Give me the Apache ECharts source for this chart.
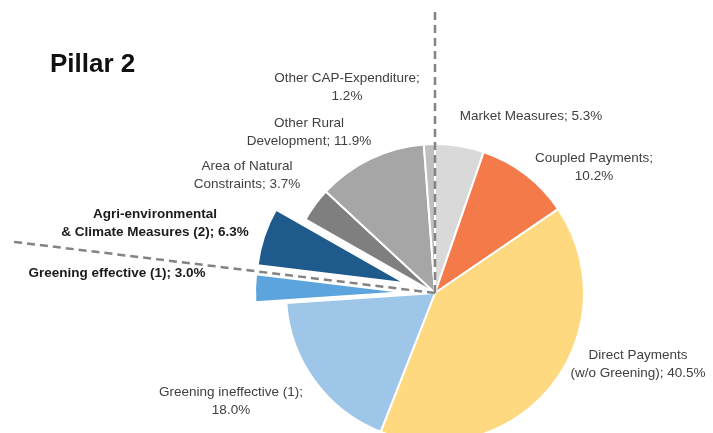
<!DOCTYPE html>
<html>
<head>
<meta charset="utf-8">
<script src="https://cdn.jsdelivr.net/npm/echarts@6/dist/echarts.min.js"></script>
<style>
html,body{margin:0;padding:0;background:#fff;}
#c{width:713px;height:433px;}
</style>
</head>
<body>
<div id="c"></div>
<script>
// ---- data ----
var categories = [
  'Market Measures',
  'Coupled Payments',
  'Direct Payments\n(w/o Greening)',
  'Greening ineffective (1)',
  'Greening effective (1)',
  'Agri-environmental\n& Climate Measures (2)',
  'Area of Natural\nConstraints',
  'Other Rural\nDevelopment',
  'Other CAP-Expenditure'
];
var values = [5.3, 10.2, 40.5, 18.0, 3.0, 6.3, 3.7, 11.9, 1.2];
var valueOnNewLine = [false, true, false, true, false, false, false, false, true];
var highlighted = [false, false, false, false, true, true, false, false, false];

// ---- styling ----
var colors = ['#d9d9d9', '#f47a4a', '#fed980', '#9dc6e8', '#5ba4de', '#1e5a8c', '#7f7f7f', '#a6a6a6', '#bfbfbf'];
var labelPos = [
  [531, 116], [594, 167], [638, 364], [231, 401], [117, 273],
  [155, 223], [247, 175], [309, 132], [347, 87]
];
var cx = 435, cy = 293, R = 149;

var total = values.reduce(function (a, b) { return a + b; }, 0);

var sliceData = values.map(function (v, i) {
  return {
    name: categories[i],
    value: v,
    itemStyle: { color: colors[i] },
    selected: highlighted[i]
  };
});
var labelData = values.map(function (v, i) {
  var d = { name: categories[i], value: v };
  if (highlighted[i]) {
    d.label = { fontWeight: 'bold', color: '#1a1a1a' };
  }
  return d;
});

// dashed separators: at the start angle and after "Greening effective"
function cumAngle(n) {
  var s = 0;
  for (var i = 0; i < n; i++) s += values[i];
  return s / total * 2 * Math.PI;
}
function lineTo(angle, len) {
  return [cx + Math.sin(angle) * len, cy - Math.cos(angle) * len];
}
var p0 = lineTo(cumAngle(0), 281);
var p1 = lineTo(cumAngle(5), 428);

var chart = echarts.init(document.getElementById('c'));
chart.setOption({
  backgroundColor: '#ffffff',
  animation: false,
  title: {
    text: 'Pillar 2',
    left: 45,
    top: 47,
    textStyle: { fontFamily: 'Liberation Sans', fontWeight: 'bold', fontSize: 26, color: '#111' }
  },
  series: [{
    // slices
    type: 'pie',
    center: [cx, cy],
    radius: [0, R],
    startAngle: 90,
    clockwise: true,
    selectedMode: 'multiple',
    selectedOffset: 31,
    itemStyle: { borderColor: '#ffffff', borderWidth: 2 },
    label: { show: false },
    labelLine: { show: false },
    emphasis: { disabled: true },
    data: sliceData,
    z: 1
  }, {
    // labels
    type: 'pie',
    center: [cx, cy],
    radius: [0, R],
    startAngle: 90,
    clockwise: true,
    silent: true,
    itemStyle: { color: 'rgba(0,0,0,0)', borderWidth: 0 },
    label: {
      show: true,
      position: 'outside',
      overflow: 'none',
      fontFamily: 'Liberation Sans',
      fontSize: 13.5,
      lineHeight: 18,
      color: '#404040',
      align: 'center',
      formatter: function (p) {
        var i = p.dataIndex;
        return p.name + ';' + (valueOnNewLine[i] ? '\n' : ' ') + values[i].toFixed(1) + '%';
      }
    },
    labelLine: { show: false },
    labelLayout: function (params) {
      var pos = labelPos[params.dataIndex];
      return { x: pos[0], y: pos[1], align: 'center', verticalAlign: 'middle', moveOverlap: false };
    },
    emphasis: { disabled: true },
    data: labelData,
    z: 3
  }],
  graphic: [
    {
      type: 'line', z: 100,
      shape: { x1: cx, y1: cy, x2: p0[0], y2: p0[1] },
      style: { stroke: '#838383', lineWidth: 2.5, lineDash: [8, 5] }
    },
    {
      type: 'line', z: 100,
      shape: { x1: cx, y1: cy, x2: p1[0], y2: p1[1] },
      style: { stroke: '#838383', lineWidth: 2.5, lineDash: [8, 5] }
    }
  ]
});
</script>
</body>
</html>
